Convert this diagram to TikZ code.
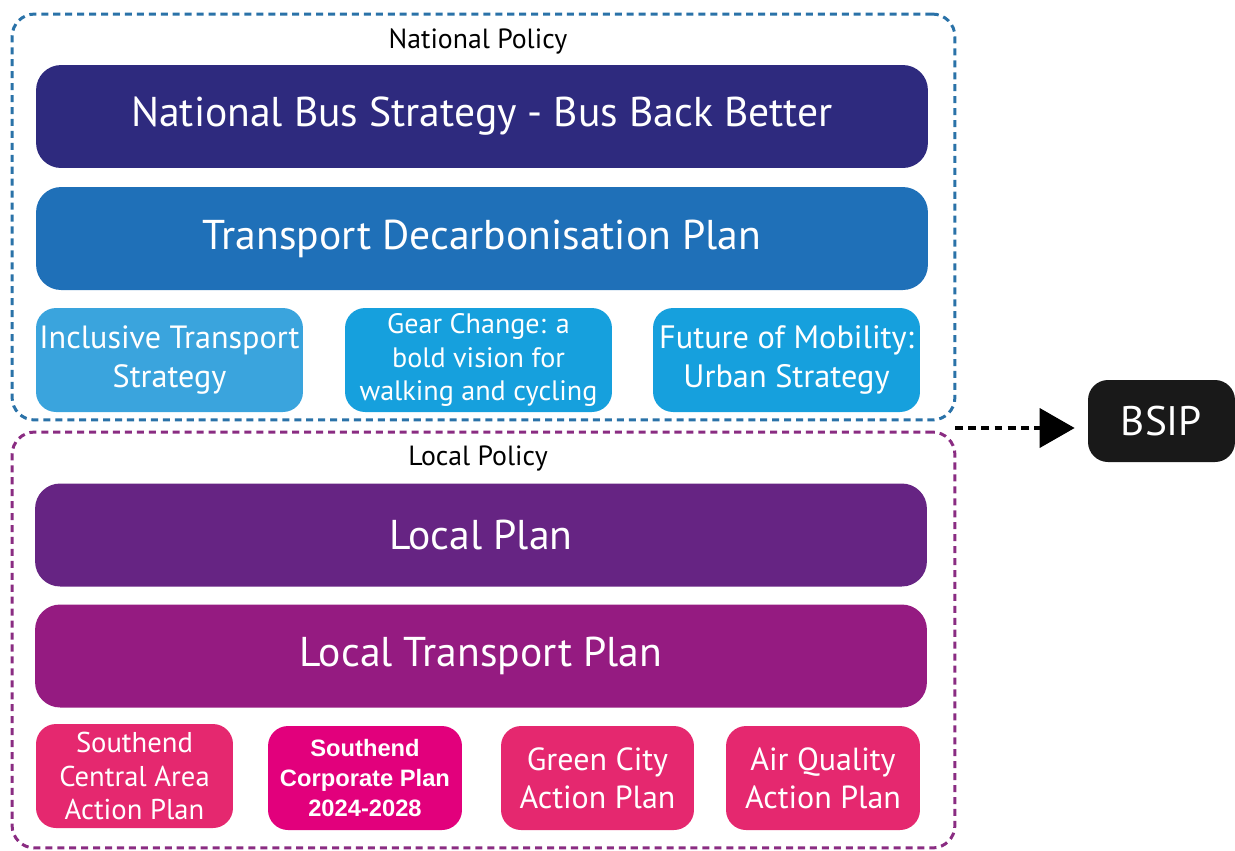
\documentclass[tikz,border=0pt]{standalone}
\usepackage{fontspec}
\setmainfont{PT Sans}
\newfontfamily\arialfont{Liberation Sans}
\usetikzlibrary{arrows.meta}
\definecolor{navyband}{HTML}{2E2A7E}
\definecolor{blueband}{HTML}{1F70B8}
\definecolor{skyA}{HTML}{3AA4DD}
\definecolor{skyB}{HTML}{16A0DD}
\definecolor{plumband}{HTML}{662483}
\definecolor{violetband}{HTML}{951B81}
\definecolor{pinktile}{HTML}{E5286F}
\definecolor{magentatile}{HTML}{E2007C}
\definecolor{natline}{HTML}{2A72A8}
\definecolor{locline}{HTML}{8A2C82}
\begin{document}
\begin{tikzpicture}[x=.02cm,y=-.02cm,
    group/.style={draw,line width=1.7pt,dash pattern=on 4pt off 2.8pt,rounded corners=.45cm,
      minimum width=18.86cm,inner sep=0pt},
    band/.style={rounded corners=.5cm,minimum width=17.84cm,minimum height=2.06cm,inner sep=0pt,
      text=white,font=\fontsize{23.7}{28}\selectfont},
    tile/.style={rounded corners=.4cm,minimum height=2.08cm,inner sep=0pt,text=white,align=center},
    heading/.style={font=\fontsize{15.8}{18}\selectfont}]
  \useasboundingbox (0,0) rectangle (1235,850);
  % national policy
  \node[group,natline,minimum height=8.12cm] (nat) at (483.5,217) {};
  \node[heading] (natlbl) at (478,41) {National Policy};
  \node[band,fill=navyband] (nbs) at (482,116.5) {National Bus Strategy - Bus Back Better};
  \node[band,fill=blueband] (tdp) at (482,238.5) {Transport Decarbonisation Plan};
  \node[tile,fill=skyA,minimum width=5.34cm,font=\fontsize{18.3}{22}\selectfont] (its) at (169.5,360)
    {Inclusive Transport\\Strategy};
  \node[tile,fill=skyB,minimum width=5.34cm,font=\fontsize{16}{19}\selectfont] (gear) at (478.5,360)
    {Gear Change: a\\bold vision for\\walking and cycling};
  \node[tile,fill=skyB,minimum width=5.34cm,font=\fontsize{18.4}{22}\selectfont] (fom) at (786.5,360)
    {Future of Mobility:\\Urban Strategy};
  % local policy
  \node[group,locline,minimum height=8.32cm] (loc) at (483.5,640) {};
  \node[heading] (loclbl) at (478,459) {Local Policy};
  \node[band,fill=plumband] (lplan) at (481,535) {Local Plan};
  \node[band,fill=violetband] (ltp) at (481,656) {Local Transport Plan};
  \node[tile,fill=pinktile,minimum width=3.94cm,font=\fontsize{16.3}{19}\selectfont] (scaap) at (134.5,776)
    {Southend\\Central Area\\Action Plan};
  \node[tile,fill=magentatile,minimum width=3.88cm,font=\arialfont\bfseries\fontsize{13.5}{17.3}\selectfont] (corp) at (365,778)
    {Southend\\Corporate Plan\\2024-2028};
  \node[tile,fill=pinktile,minimum width=3.86cm,font=\fontsize{18.2}{21.5}\selectfont] (green) at (597.5,778)
    {Green City\\Action Plan};
  \node[tile,fill=pinktile,minimum width=3.88cm,font=\fontsize{18.2}{21.5}\selectfont] (air) at (823,778)
    {Air Quality\\Action Plan};
  % output
  \node[fill=black!90,rounded corners=.4cm,minimum width=2.94cm,minimum height=1.64cm,text=white,
    font=\fontsize{23.5}{28}\selectfont] (bsip) at (1161.5,421) {BSIP};
  \coordinate (join) at (955,428);
  \draw[line width=2.2pt,dash pattern=on 4.5pt off 3pt,-{Triangle[length=.7cm,width=.78cm]},shorten >=.26cm]
    (join) -- (join -| bsip.west);
\end{tikzpicture}
\end{document}
